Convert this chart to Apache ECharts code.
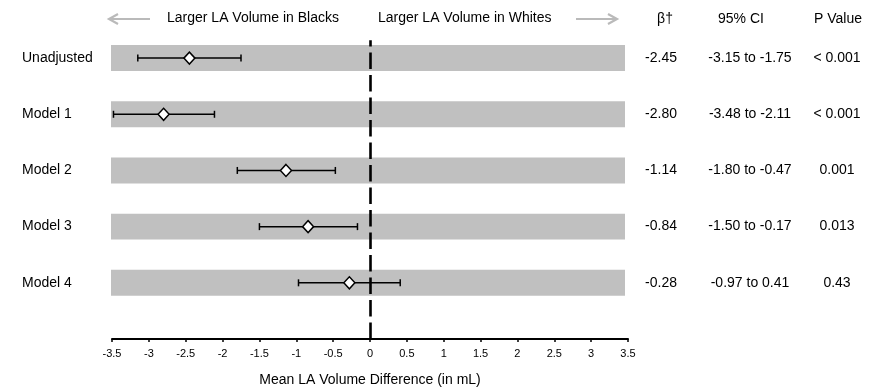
<!DOCTYPE html>
<html><head><meta charset="utf-8">
<script src="https://cdn.jsdelivr.net/npm/echarts@6/dist/echarts.min.js"></script>
<style>html,body{margin:0;padding:0;background:#fff}#c{width:869px;height:392px}</style>
</head><body><div id="c"></div>
<script>
const rowNames = ['Unadjusted', 'Model 1', 'Model 2', 'Model 3', 'Model 4'];
const beta = [-2.45, -2.80, -1.14, -0.84, -0.28];
const ciLow = [-3.15, -3.48, -1.80, -1.50, -0.97];
const ciHigh = [-1.75, -2.11, -0.47, -0.17, 0.41];
const betaLabels = ['-2.45', '-2.80', '-1.14', '-0.84', '-0.28'];
const ciLabels = ['-3.15 to -1.75', '-3.48 to -2.11', '-1.80 to -0.47', '-1.50 to -0.17', '-0.97 to 0.41'];
const pLabels = ['< 0.001', '< 0.001', '0.001', '0.013', '0.43'];
const headers = ['\u03b2\u2020', '95% CI', 'P Value'];
const xMin = -3.5, xMax = 3.5, xStep = 0.5;
const yMin = -0.5, yMax = 5.0;

const FONT = "'Liberation Sans', Arial, sans-serif";
const chart = echarts.init(document.getElementById('c'), null, {renderer: 'canvas'});

function rowFmt(arr) {
  return function (v) {
    const i = Math.round(v);
    return (Math.abs(v - i) < 1e-6 && i >= 0 && i < arr.length) ? arr[i] : '';
  };
}
function tableAxis(arr, offset) {
  return {
    type: 'value', position: 'right', inverse: true, min: yMin, max: yMax, interval: 0.5,
    offset: offset,
    axisLine: {show: false}, axisTick: {show: false}, splitLine: {show: false},
    axisLabel: {formatter: rowFmt(arr), align: 'center', margin: 0, fontSize: 14, color: '#000', fontFamily: FONT, showMaxLabel: false}
  };
}

const points = beta.map((b, i) => [b, i]);
const bars = ciLow.map((l, i) => [l, ciHigh[i], i]);

function arrow(x1, x2, y) {
  const dir = x2 > x1 ? 1 : -1;
  return {
    type: 'group', silent: true, children: [
      {type: 'line', shape: {x1: x1, y1: y, x2: x2 - dir * 1, y2: y}, style: {stroke: '#bababa', lineWidth: 2.2}},
      {type: 'polyline', shape: {points: [[x2 - dir * 9, y - 5], [x2, y], [x2 - dir * 9, y + 5]]}, style: {stroke: '#bababa', lineWidth: 2.2, fill: null}}
    ]
  };
}

chart.setOption({
  animation: false,
  backgroundColor: '#fff',
  textStyle: {fontFamily: FONT},
  grid: {left: 112, right: 241, top: 30, bottom: 52},
  xAxis: {
    type: 'value', min: xMin, max: xMax, interval: xStep,
    axisLine: {onZero: false, lineStyle: {color: '#000', width: 2}},
    axisTick: {length: 3, lineStyle: {color: '#000', width: 1.5}},
    splitLine: {show: false},
    axisLabel: {fontSize: 11, color: '#000', margin: 9, fontFamily: FONT},
    name: 'Mean LA Volume Difference (in mL)', nameLocation: 'middle', nameGap: 34,
    nameTextStyle: {fontSize: 14, color: '#000', fontFamily: FONT}
  },
  yAxis: [
    {
      type: 'value', inverse: true, min: yMin, max: yMax, interval: 0.5,
      axisLine: {show: false}, axisTick: {show: false}, splitLine: {show: false},
      axisLabel: {formatter: rowFmt(rowNames), align: 'left', margin: 90, fontSize: 14, color: '#000', fontFamily: FONT, showMaxLabel: false}
    },
    tableAxis(betaLabels, 33),
    tableAxis(ciLabels, 122),
    tableAxis(pLabels, 209)
  ],
  graphic: [
    arrow(150, 109, 19),
    arrow(576, 617, 19),
    {type: 'text', left: 167, top: 11, style: {text: 'Larger LA Volume in Blacks', font: '14px ' + FONT, fill: '#000'}},
    {type: 'text', left: 378, top: 11, style: {text: 'Larger LA Volume in Whites', font: '14px ' + FONT, fill: '#000'}},
    {type: 'text', x: 665, y: 19, style: {text: headers[0], font: '14px ' + FONT, fill: '#000', align: 'center', verticalAlign: 'middle'}},
    {type: 'text', x: 741, y: 19, style: {text: headers[1], font: '14px ' + FONT, fill: '#000', align: 'center', verticalAlign: 'middle'}},
    {type: 'text', x: 838, y: 19, style: {text: headers[2], font: '14px ' + FONT, fill: '#000', align: 'center', verticalAlign: 'middle'}}
  ],
  series: [
    {
      type: 'custom', name: 'bands', silent: true, z: 1,
      data: rowNames.map((n, i) => [i]),
      renderItem: function (params, api) {
        const i = api.value(0);
        const p1 = api.coord([xMin, i - 0.231]);
        const p2 = api.coord([xMax, i + 0.231]);
        return {type: 'rect', shape: {x: p1[0] - 1, y: p1[1], width: p2[0] - p1[0] - 2, height: p2[1] - p1[1]}, style: {fill: '#c0c0c0'}};
      }
    },
    {
      type: 'custom', name: 'ci', silent: true, z: 3,
      data: bars,
      renderItem: function (params, api) {
        const a = api.coord([api.value(0), api.value(2)]);
        const b = api.coord([api.value(1), api.value(2)]);
        const st = {stroke: '#000', lineWidth: 1.5};
        return {type: 'group', children: [
          {type: 'line', shape: {x1: a[0], y1: a[1], x2: b[0], y2: b[1]}, style: st},
          {type: 'line', shape: {x1: a[0], y1: a[1] - 3.5, x2: a[0], y2: a[1] + 3.5}, style: st},
          {type: 'line', shape: {x1: b[0], y1: b[1] - 3.5, x2: b[0], y2: b[1] + 3.5}, style: st}
        ]};
      }
    },
    {
      type: 'scatter', name: 'beta', z: 5, data: points,
      symbol: 'diamond', symbolSize: [11, 12],
      itemStyle: {color: '#fff', borderColor: '#000', borderWidth: 1.5, opacity: 1},
      markLine: {
        silent: true, symbol: 'none', label: {show: false}, z: 2,
        lineStyle: {color: '#000', width: 2.6, type: [16.5, 6]},
        data: [[{coord: [0, yMax]}, {coord: [0, -0.316]}]]
      }
    }
  ]
});
</script>
</body></html>
